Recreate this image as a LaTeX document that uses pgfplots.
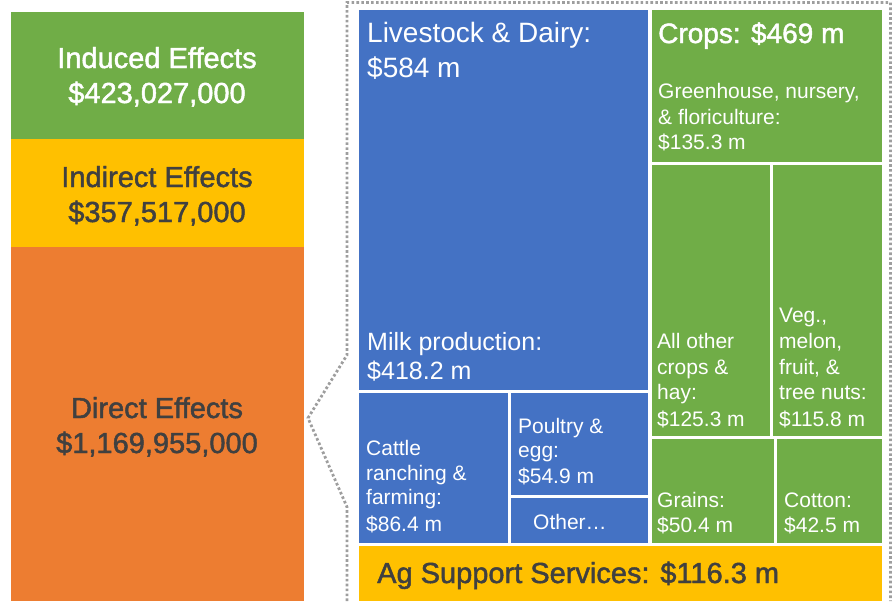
\documentclass[border=0pt]{standalone}
\usepackage{fontspec}
\setmainfont{Liberation Sans}
\newfontfamily\medfont[FakeBold=1.6]{Liberation Sans}
\usepackage{pgfplots}
\pgfplotsset{compat=1.18}
\definecolor{cblue}{HTML}{4472C4}
\definecolor{cgreen}{HTML}{70AD47}
\definecolor{corange}{HTML}{ED7D31}
\definecolor{cyellow}{HTML}{FFC000}
\definecolor{cdark}{HTML}{404040}
\definecolor{cdot}{HTML}{9E9E9E}
\newcommand{\fs}[1]{\fontsize{#1}{#1}\selectfont}
\newcommand{\rect}[5]{\addplot[fill=#5,draw=none,mark=none] coordinates {(#1,#2) (#3,#2) (#3,#4) (#1,#4)} -- cycle;}
\begin{document}
\begin{tikzpicture}
\begin{axis}[width=893pt,height=601pt,scale only axis,
  xmin=0,xmax=893,ymin=0,ymax=601,y dir=reverse,hide axis,clip=false]
% left stacked bar: total economic effects
\rect{10.5}{11.5}{303.5}{139.3}{cgreen}
\rect{10.5}{139.3}{303.5}{247.3}{cyellow}
\rect{10.5}{247.3}{303.5}{601}{corange}
% treemap of direct effects
\rect{359}{10}{648.3}{390}{cblue}      % Milk production 418.2
\rect{359}{392.5}{508}{543}{cblue}     % Cattle 86.4
\rect{511}{392.5}{648.3}{495}{cblue}   % Poultry 54.9
\rect{511}{498}{648.3}{543}{cblue}     % Other
\rect{651.7}{10}{882}{162}{cgreen}     % Greenhouse 135.3
\rect{651.7}{164.5}{770}{436}{cgreen}  % All other crops 125.3
\rect{773}{164.5}{882}{436}{cgreen}    % Veg 115.8
\rect{651.7}{439}{774}{543}{cgreen}    % Grains 50.4
\rect{777}{439}{882}{543}{cgreen}      % Cotton 42.5
\rect{359}{546}{882}{601}{cyellow}     % Ag support 116.3
% dotted callout
\addplot[cdot,mark=none,line width=2.8pt,dash pattern=on 2.6pt off 2.3pt]
  coordinates {(347,601) (347,507) (308,418) (347,355) (347,2.5) (890.5,2.5) (890.5,601)};
% left labels
\node[anchor=base,text=white,font=\medfont\fs{29}] at (axis cs:157,68) {Induced Effects};
\node[anchor=base,text=white,font=\medfont\fs{29}] at (axis cs:157,103) {\$423,027,000};
\node[anchor=base,text=cdark,font=\medfont\fs{29}] at (axis cs:157,187) {Indirect Effects};
\node[anchor=base,text=cdark,font=\medfont\fs{29}] at (axis cs:157,222) {\$357,517,000};
\node[anchor=base,text=cdark,font=\medfont\fs{29}] at (axis cs:157,418) {Direct Effects};
\node[anchor=base,text=cdark,font=\medfont\fs{29}] at (axis cs:157,453) {\$1,169,955,000};
% treemap labels
\begin{scope}[every node/.style={anchor=base west,inner sep=0pt,text=white}]
\node[font=\fs{28}] at (axis cs:367,42) {Livestock \& Dairy:};
\node[font=\fs{28}] at (axis cs:367,77) {\$584 m};
\node[font=\fs{25}] at (axis cs:367,350) {Milk production:};
\node[font=\fs{25}] at (axis cs:367,379) {\$418.2 m};
\node[font=\fs{21}] at (axis cs:366,455) {Cattle};
\node[font=\fs{21}] at (axis cs:366,480) {ranching \&};
\node[font=\fs{21}] at (axis cs:366,504) {farming:};
\node[font=\fs{21}] at (axis cs:366,531) {\$86.4 m};
\node[font=\fs{21}] at (axis cs:518,433) {Poultry \&};
\node[font=\fs{21}] at (axis cs:518,457) {egg:};
\node[font=\fs{21}] at (axis cs:518,483) {\$54.9 m};
\node[font=\fs{21}] at (axis cs:533,529) {Other…};
\node[font=\medfont\fs{28}] at (axis cs:658,43) {Crops: \$469 m};
\node[font=\fs{21}] at (axis cs:658,98) {Greenhouse, nursery,};
\node[font=\fs{21}] at (axis cs:658,124) {\& floriculture:};
\node[font=\fs{21}] at (axis cs:658,149) {\$135.3 m};
\node[font=\fs{21}] at (axis cs:657,348) {All other};
\node[font=\fs{21}] at (axis cs:657,374) {crops \&};
\node[font=\fs{21}] at (axis cs:657,399) {hay:};
\node[font=\fs{21}] at (axis cs:657,426) {\$125.3 m};
\node[font=\fs{21}] at (axis cs:779,322) {Veg.,};
\node[font=\fs{21}] at (axis cs:779,348) {melon,};
\node[font=\fs{21}] at (axis cs:779,374) {fruit, \&};
\node[font=\fs{21}] at (axis cs:779,399) {tree nuts:};
\node[font=\fs{21}] at (axis cs:779,426) {\$115.8 m};
\node[font=\fs{21}] at (axis cs:657,507) {Grains:};
\node[font=\fs{21}] at (axis cs:657,532) {\$50.4 m};
\node[font=\fs{21}] at (axis cs:784,507) {Cotton:};
\node[font=\fs{21}] at (axis cs:784,532) {\$42.5 m};
\node[font=\medfont\fs{29},text=cdark] at (axis cs:377,583) {Ag Support Services: \$116.3 m};
\end{scope}
\end{axis}
\path (current axis.south west) rectangle (current axis.north east);
\end{tikzpicture}
\end{document}
